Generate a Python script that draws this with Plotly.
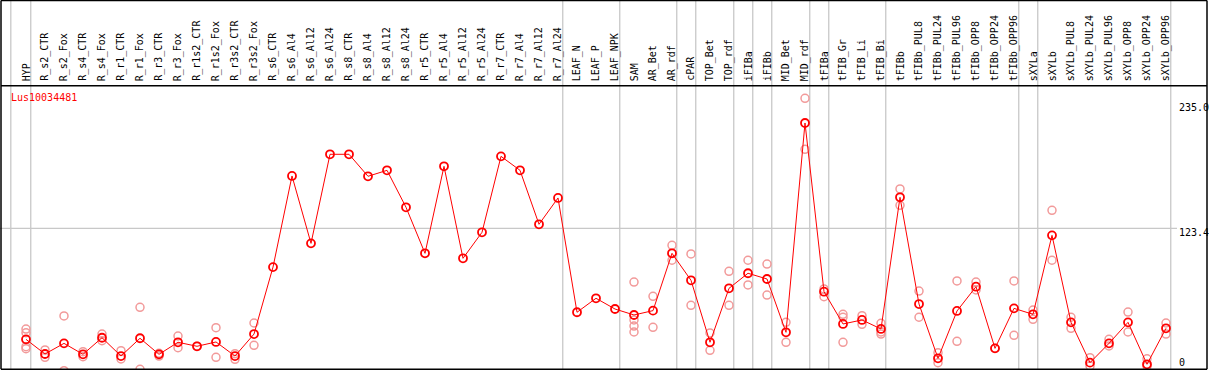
import plotly.graph_objects as go

categories = ["HYP", "R_s2_CTR", "R_s2_Fox", "R_s4_CTR", "R_s4_Fox", "R_r1_CTR", "R_r1_Fox",
              "R_r3_CTR", "R_r3_Fox", "R_r1s2_CTR", "R_r1s2_Fox", "R_r3s2_CTR", "R_r3s2_Fox",
              "R_s6_CTR", "R_s6_Al4", "R_s6_Al12", "R_s6_Al24", "R_s8_CTR", "R_s8_Al4", "R_s8_Al12",
              "R_s8_Al24", "R_r5_CTR", "R_r5_Al4", "R_r5_Al12", "R_r5_Al24", "R_r7_CTR", "R_r7_Al4",
              "R_r7_Al12", "R_r7_Al24", "LEAF_N", "LEAF_P", "LEAF_NPK", "SAM", "AR_Bet", "AR_rdf",
              "cPAR", "TOP_Bet", "TOP_rdf", "iFIBa", "iFIBb", "MID_Bet", "MID_rdf", "tFIBa",
              "tFIB_Gr", "tFIB_Li", "tFIB_Bi", "tFIBb", "tFIBb_PUL8", "tFIBb_PUL24", "tFIBb_PUL96",
              "tFIBb_OPP8", "tFIBb_OPP24", "tFIBb_OPP96", "sXYLa", "sXYLb", "sXYLb_PUL8",
              "sXYLb_PUL24", "sXYLb_PUL96", "sXYLb_OPP8", "sXYLb_OPP24", "sXYLb_OPP96"]

means = [20.9, 7.4, 17.2, 7.1, 22.4, 5.5, 21.9, 7.1, 18.2, 14.5, 18.5, 5.5, 25.8,
         87.6, 171.7, 109.5, 191.7, 191.7, 171.4, 176.9, 142.8, 100.3, 180.6, 95.7, 119.7,
         189.8, 176.9, 127.1, 151.4, 45.9, 58.8, 48.9, 43.4, 47.4, 100.3, 75.4, 18.2, 68.0,
         81.9, 76.6, 27.4, 220.6, 64.9, 35.1, 38.8, 30.5, 152.0, 53.5, 3.4, 47.1, 69.5, 12.6,
         49.5, 44.0, 116.9, 36.6, -0.6, 17.2, 36.6, -2.1, 31.1]

replicates = [
    [30.4, 27.0, 14.1, 12.3], [11.1, 4.3], [42.5, -8.0], [9.5, 4.9], [25.8, 19.7],
    [10.4, 2.8], [50.5, -6.7], [8.0, 5.5], [24.0, 13.2], [14.5], [31.7, 4.3],
    [7.7, 2.5], [36.0, 15.4], [], [], [], [], [], [], [], [], [], [], [], [], [], [], [], [],
    [], [], [], [73.8, 38.8, 33.2, 27.7], [60.6, 32.0], [107.7, 93.9], [99.7, 52.3],
    [26.8, 10.8], [83.7, 52.3], [93.9, 71.1], [90.4, 61.8], [36.6, 18.2], [243.4, 196.3],
    [67.4, 60.3], [44.0, 41.3, 18.2], [42.8, 34.8], [35.7, 27.7, 25.8], [159.7, 144.6],
    [65.5, 41.3], [8.6, -0.6], [74.8, 19.1], [73.8, 66.5], [12.6], [74.8, 24.6],
    [48.0, 39.4], [140.0, 93.9], [41.3, 31.1], [4.0, -3.7], [21.0, 14.8], [46.1, 27.7],
    [3.0, -4.0], [36.0, 25.8]]

group_ends = [-1, 0, 28, 31, 34, 35, 37, 38, 39, 41, 42, 45, 52, 53, 60]
ytick_vals = [235.0, 123.4, 0]
ytick_text = ["235.0", "123.4", "0"]
gene_name = "Lus10034481"

W, H = 1209, 370
# pixel geometry: category i at x = 26 + 19*i ; value v at y = 362 - 1.0835*v
x0 = (0 - 26) / 19
x1 = (W - 26) / 19
y_bot = (362 - H) / 1.0835
y_top = 362 / 1.0835

def py(p):
    return (H - p) / H

def px(p):
    return p / W

fig = go.Figure()

rx, ry = [], []
for i, vals in enumerate(replicates):
    for v in vals:
        rx.append(i)
        ry.append(v)

fig.add_trace(go.Scatter(x=rx, y=ry, mode="markers",
                         marker=dict(symbol="circle-open", size=8, color="#f29a9a",
                                     line=dict(width=1.5, color="#f29a9a")),
                         showlegend=False, hoverinfo="skip"))
fig.add_trace(go.Scatter(x=list(range(len(categories))), y=means, mode="lines+markers",
                         line=dict(color="#ff0000", width=1),
                         marker=dict(symbol="circle-open", size=8, color="#ff0000",
                                     line=dict(width=1.8, color="#ff0000")),
                         showlegend=False))

shapes = []
for g in group_ends:
    xv = g + 0.25 if g >= 0 else -0.8
    shapes.append(dict(type="line", xref="x", yref="paper", x0=xv, x1=xv, y0=0, y1=1,
                       line=dict(color="#c8c8c8", width=1.3), layer="below"))
# horizontal grid at 123.4
shapes.append(dict(type="line", xref="x", yref="y", x0=x0, x1=(1177 - 26) / 19,
                   y0=ytick_vals[1], y1=ytick_vals[1],
                   line=dict(color="#c8c8c8", width=1.3), layer="below"))
# borders
for (a, b, c, d) in [(1, 0.5, 1207, 0.5), (1, 85.7, 1207, 85.7), (1, 369.3, 1207, 369.3),
                     (1, 0.5, 1, 369.3), (1207, 0.5, 1207, 369.3)]:
    shapes.append(dict(type="line", xref="paper", yref="paper", x0=px(a), x1=px(c),
                       y0=py(b), y1=py(d), line=dict(color="black", width=1.5)))

annotations = []
for i, c in enumerate(categories):
    annotations.append(dict(x=i, y=py(83.3), xref="x", yref="paper", text=c, textangle=-90,
                            showarrow=False, xanchor="center", yanchor="bottom",
                            font=dict(family="DejaVu Sans Mono", size=10, color="black")))
for v, t in zip(ytick_vals, ytick_text):
    annotations.append(dict(x=px(1177), y=v, xref="paper", yref="y", text=t, showarrow=False,
                            xanchor="left", yanchor="middle",
                            yshift=-4 if t == "123.4" else 0,
                            font=dict(family="DejaVu Sans Mono", size=10, color="black")))
annotations.append(dict(x=px(9), y=py(97), xref="paper", yref="paper", text=gene_name,
                        showarrow=False, xanchor="left", yanchor="middle",
                        font=dict(family="DejaVu Sans Mono", size=10, color="#ff0000")))

fig.update_layout(
    width=W, height=H, margin=dict(l=0, r=0, t=0, b=0),
    paper_bgcolor="white", plot_bgcolor="white",
    xaxis=dict(range=[x0, x1], showgrid=False, zeroline=False, showticklabels=False,
               showline=False, ticks=""),
    yaxis=dict(range=[y_bot, y_top], showgrid=False, zeroline=False, showticklabels=False,
               showline=False, ticks=""),
    shapes=shapes, annotations=annotations,
)

fig.write_html("out.html", config={"displayModeBar": False},
               post_script="document.body.style.margin='0';document.body.style.overflow='hidden';")
